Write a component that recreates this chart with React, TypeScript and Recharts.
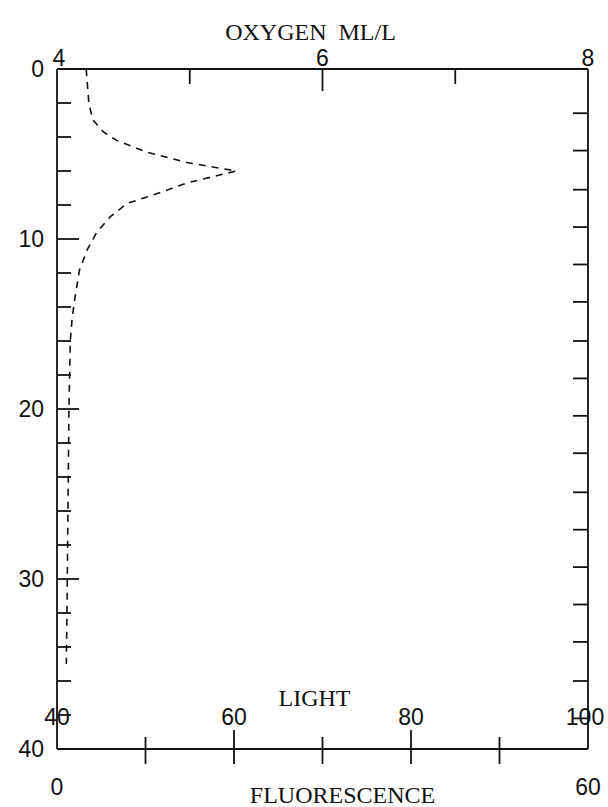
import { LineChart, Line, XAxis, YAxis } from 'recharts'

// oxygen profile (depth in m, oxygen in ml/l)
const DEPTH = [0, 1, 2, 3, 3.7, 4.2, 4.9, 5.5, 6.0, 6.7, 7.5, 7.9, 8.7, 9.6, 10.6, 11.8, 13.2, 14.6, 16, 18, 20, 24, 28, 32, 35]
const OXYGEN = [4.22, 4.23, 4.24, 4.27, 4.35, 4.45, 4.68, 4.98, 5.35, 4.98, 4.69, 4.53, 4.4, 4.3, 4.23, 4.17, 4.14, 4.115, 4.1, 4.095, 4.09, 4.085, 4.08, 4.075, 4.07]

const OXYGEN_TICKS = [4, 5, 6, 7, 8]
const OXYGEN_LABELS = [4, 6, 8]
const DEPTH_TICKS = [0, 2, 4, 6, 8, 10, 12, 14, 16, 18, 20, 22, 24, 26, 28, 30, 32, 34, 36, 38, 40]
const DEPTH_LABELS = [0, 10, 20, 30, 40]
const FLUOR_TICKS = [0, 10, 20, 30, 40, 50, 60]
const FLUOR_LABELS = [0, 60]
// light scale printed over the fluorescence axis
const LIGHT_TICKS = [40, 60, 80, 100]
const LIGHT_AT_FLUOR = [0, 20, 40, 60]
// unlabelled ticks on the right frame, in depth units
const RIGHT_TICKS = [2.6, 4.8, 7.1, 9.3, 11.5, 13.7, 16.0, 18.2, 20.4, 22.6, 24.9, 27.1, 29.3, 31.5, 33.7, 36.0, 38.2]

const data = DEPTH.map((d, i) => ({ depth: d, oxygen: OXYGEN[i] }))

const INK = '#111'
const NUM_FONT = '"Liberation Sans", Arial, sans-serif'
const TITLE_FONT = '"Liberation Serif", "Times New Roman", serif'
const SW = 1.8

function OxygenTick({ x, y, payload }: any) {
    const v = payload.value
    const len = v === 6 ? 22 : 15
    return (
        <g>
            {v !== 4 && v !== 8 && <line x1={x} y1={y} x2={x} y2={y + len} stroke={INK} strokeWidth={SW} />}
            {OXYGEN_LABELS.includes(v) && (
                <text x={v === 4 ? x + 2 : x} y={y - 3} textAnchor="middle" fontFamily={NUM_FONT} fontSize={23} fill={INK}>{v}</text>
            )}
        </g>
    )
}

function DepthTick({ x, y, payload }: any) {
    const v = payload.value
    const len = v % 10 === 0 ? 22 : 14
    return (
        <g>
            {v !== 0 && v !== 40 && <line x1={x} y1={y} x2={x + len} y2={y} stroke={INK} strokeWidth={SW} />}
            {DEPTH_LABELS.includes(v) && (
                <text x={x - 13} y={y} dy="0.36em" textAnchor="end" fontFamily={NUM_FONT} fontSize={23} fill={INK}>{v}</text>
            )}
        </g>
    )
}

function RightTick({ x, y }: any) {
    return <line x1={x - 15} y1={y} x2={x} y2={y} stroke={INK} strokeWidth={SW} />
}

function FluorTick({ x, y, payload }: any) {
    const v = payload.value
    const up = v === 20 || v === 40 ? 19 : 12
    const li = LIGHT_AT_FLUOR.indexOf(v)
    return (
        <g>
            {v !== 0 && v !== 60 && <line x1={x} y1={y - up} x2={x} y2={y + 15} stroke={INK} strokeWidth={SW} />}
            {FLUOR_LABELS.includes(v) && (
                <text x={x} y={y + 46} textAnchor="middle" fontFamily={NUM_FONT} fontSize={23} fill={INK}>{v}</text>
            )}
            {li >= 0 && (
                <text x={v === 60 ? x - 3 : x} y={y - 24} textAnchor="middle" fontFamily={NUM_FONT} fontSize={23} fill={INK}>{LIGHT_TICKS[li]}</text>
            )}
        </g>
    )
}

function BottomTitles({ viewBox }: any) {
    const vb = viewBox ?? { x: 57, y: 749, width: 531 }
    const cx = vb.x + vb.width / 2
    return (
        <g fontFamily={TITLE_FONT} fontSize={24} fill={INK} textAnchor="middle">
            <text x={cx - 8} y={vb.y - 43}>LIGHT</text>
            <text x={cx + 20} y={vb.y + 54}>FLUORESCENCE</text>
        </g>
    )
}

function TopTitle({ viewBox }: any) {
    const vb = viewBox ?? { x: 57, y: 0, width: 531 }
    return (
        <text x={vb.x + vb.width / 2 - 12} y={40} textAnchor="middle" fontFamily={TITLE_FONT} fontSize={24} fill={INK} style={{ whiteSpace: 'pre' }}>OXYGEN  ML/L</text>
    )
}

export default function App() {
    return (
        <div style={{ position: 'absolute', left: 0, top: 0, width: 608, height: 807, background: '#fff' }}>
            <LineChart width={608} height={807} data={data} layout="vertical" margin={{ top: 0, right: 0, bottom: 0, left: 0 }}>
                <XAxis
                    xAxisId="oxygen"
                    orientation="top"
                    type="number"
                    domain={[4, 8]}
                    allowDataOverflow
                    ticks={OXYGEN_TICKS}
                    interval={0}
                    height={69}
                    tickSize={0}
                    tickMargin={0}
                    tickLine={false}
                    axisLine={{ stroke: INK, strokeWidth: SW }}
                    tick={OxygenTick}
                    label={<TopTitle />}
                />
                <XAxis
                    xAxisId="fluor"
                    orientation="bottom"
                    type="number"
                    domain={[0, 60]}
                    allowDataOverflow
                    ticks={FLUOR_TICKS}
                    interval={0}
                    height={58}
                    tickSize={0}
                    tickMargin={0}
                    tickLine={false}
                    axisLine={{ stroke: INK, strokeWidth: SW }}
                    tick={FluorTick}
                    label={<BottomTitles />}
                />
                <YAxis
                    yAxisId="depth"
                    type="number"
                    dataKey="depth"
                    domain={[0, 40]}
                    allowDataOverflow
                    ticks={DEPTH_TICKS}
                    interval={0}
                    width={57}
                    tickSize={0}
                    tickMargin={0}
                    tickLine={false}
                    axisLine={{ stroke: INK, strokeWidth: SW }}
                    tick={DepthTick}
                />
                <YAxis
                    yAxisId="right"
                    orientation="right"
                    type="number"
                    dataKey="depth"
                    domain={[0, 40]}
                    allowDataOverflow
                    ticks={RIGHT_TICKS}
                    interval={0}
                    width={20}
                    tickSize={0}
                    tickMargin={0}
                    tickLine={false}
                    axisLine={{ stroke: INK, strokeWidth: SW }}
                    tick={RightTick}
                />
                <Line
                    xAxisId="oxygen"
                    yAxisId="depth"
                    dataKey="oxygen"
                    type="linear"
                    stroke={INK}
                    strokeWidth={1.6}
                    strokeDasharray="7 6"
                    dot={false}
                    isAnimationActive={false}
                />
            </LineChart>
        </div>
    )
}
